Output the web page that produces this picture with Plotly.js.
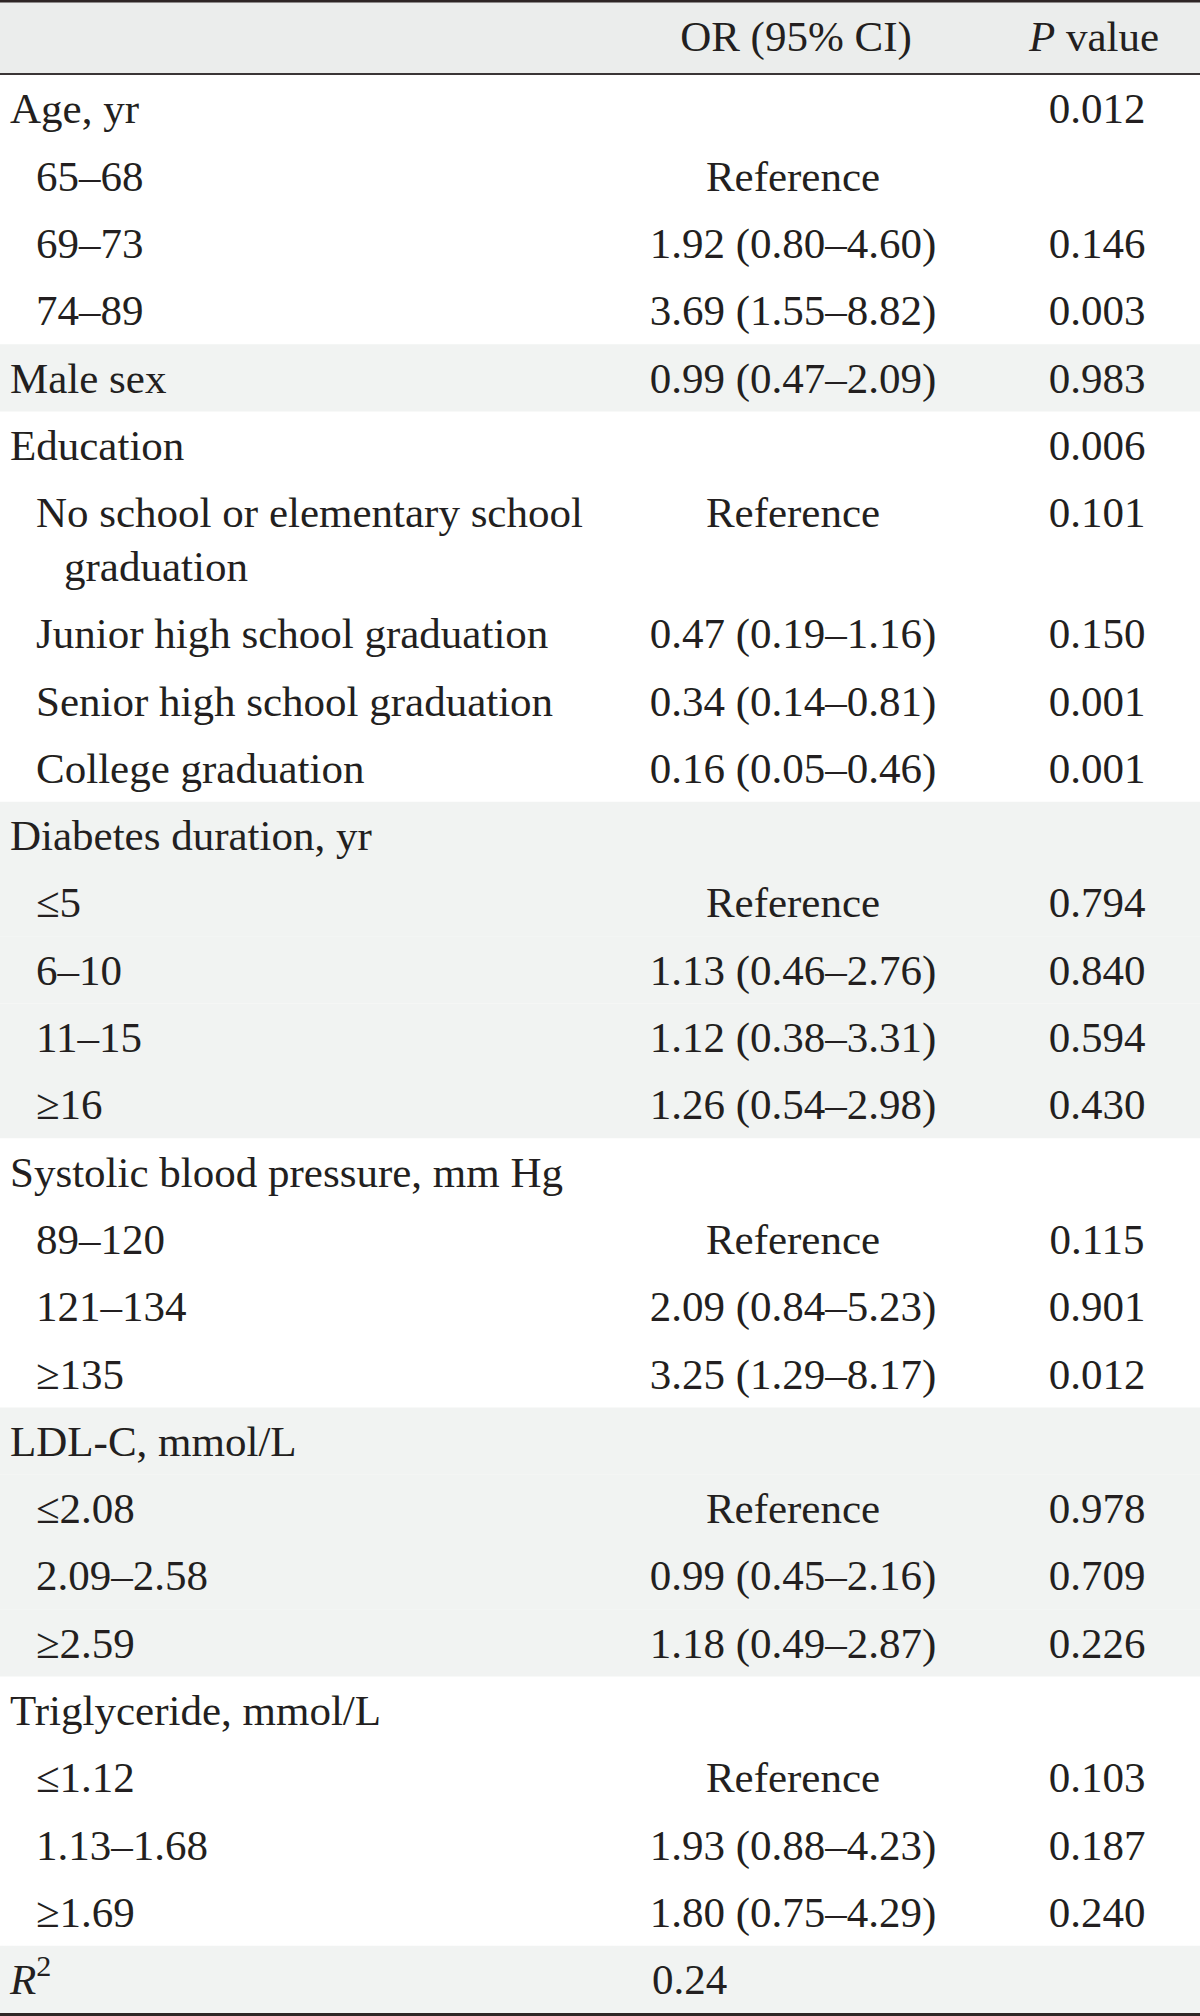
<!DOCTYPE html>
<html>
<head>
<meta charset="utf-8">
<script src="https://cdn.plot.ly/plotly-3.0.1.min.js"></script>
<style>
  html, body { margin: 0; padding: 0; background: #ffffff; }
  #chart { width: 1200px; height: 2016px; }
</style>
</head>
<body>
<div id="chart"></div>
<script>
// ---- Data ----
const headers = ["", "OR (95% CI)", "<i>P</i> value"];

const labels = [
  "Age, yr", "65–68", "69–73", "74–89",
  "Male sex",
  "Education", "No school or elementary school\ngraduation", "Junior high school graduation",
  "Senior high school graduation", "College graduation",
  "Diabetes duration, yr", "≤5", "6–10", "11–15", "≥16",
  "Systolic blood pressure, mm Hg", "89–120", "121–134", "≥135",
  "LDL-C, mmol/L", "≤2.08", "2.09–2.58", "≥2.59",
  "Triglyceride, mmol/L", "≤1.12", "1.13–1.68", "≥1.69"
];

const levels = [
  0, 1, 1, 1,
  0,
  0, 1, 1, 1, 1,
  0, 1, 1, 1, 1,
  0, 1, 1, 1,
  0, 1, 1, 1,
  0, 1, 1, 1
];

const orCI = [
  "", "Reference", "1.92 (0.80–4.60)", "3.69 (1.55–8.82)",
  "0.99 (0.47–2.09)",
  "", "Reference", "0.47 (0.19–1.16)", "0.34 (0.14–0.81)", "0.16 (0.05–0.46)",
  "", "Reference", "1.13 (0.46–2.76)", "1.12 (0.38–3.31)", "1.26 (0.54–2.98)",
  "", "Reference", "2.09 (0.84–5.23)", "3.25 (1.29–8.17)",
  "", "Reference", "0.99 (0.45–2.16)", "1.18 (0.49–2.87)",
  "", "Reference", "1.93 (0.88–4.23)", "1.80 (0.75–4.29)"
];

const pValues = [
  "0.012", "", "0.146", "0.003",
  "0.983",
  "0.006", "0.101", "0.150", "0.001", "0.001",
  "", "0.794", "0.840", "0.594", "0.430",
  "", "0.115", "0.901", "0.012",
  "", "0.978", "0.709", "0.226",
  "", "0.103", "0.187", "0.240"
];

const summaryLabel = "<i>R</i><sup>2</sup>";
const summaryValue = "0.24";

// ---- Layout constants ----
const W = 1200, H = 2016;
const HEAD_H = 75, ROW_H = 67.3, LINE_H = 53.7, TEXT_DY = 4;
const X_LABEL = 10, INDENT = 26, WRAP_INDENT = 28;
const X_OR = 793, X_P = 1097, X_SUMMARY = 652;
const FONT = "Liberation Serif, Times New Roman, serif";
const FSIZE = 43;
const TXT = "#231f20";
const SHADE = "#f1f3f2", HEAD_SHADE = "#ebedec";

// ---- Compute positions ----
const labX = [], labY = [], labT = [];
const orX = [], orY = [], orT = [];
const pX = [], pY = [], pT = [];
const shapes = [];

shapes.push({type: "rect", xref: "x", yref: "y", x0: 0, x1: W, y0: 0, y1: HEAD_H,
  fillcolor: HEAD_SHADE, line: {width: 0}, layer: "below"});

let y = HEAD_H;
let group = -1;
labels.forEach((lab, i) => {
  if (levels[i] === 0) group++;
  const lines = lab.split("\n");
  const h = ROW_H + (lines.length - 1) * LINE_H;
  if (group % 2 === 1) {
    shapes.push({type: "rect", xref: "x", yref: "y", x0: 0, x1: W, y0: y, y1: y + h,
      fillcolor: SHADE, line: {width: 0}, layer: "below"});
  }
  const cy = y + ROW_H / 2 + TEXT_DY;
  lines.forEach((ln, k) => {
    labX.push(X_LABEL + levels[i] * INDENT + (k > 0 ? WRAP_INDENT : 0));
    labY.push(cy + k * LINE_H);
    labT.push(ln);
  });
  if (orCI[i]) { orX.push(X_OR); orY.push(cy); orT.push(orCI[i]); }
  if (pValues[i]) { pX.push(X_P); pY.push(cy); pT.push(pValues[i]); }
  y += h;
});
group++;
// summary row
const sTop = y;
if (group % 2 === 1) {
  shapes.push({type: "rect", xref: "x", yref: "y", x0: 0, x1: W, y0: sTop, y1: sTop + ROW_H,
    fillcolor: SHADE, line: {width: 0}, layer: "below"});
}
const sumY = sTop + ROW_H / 2 + TEXT_DY;
labX.push(X_LABEL); labY.push(sumY); labT.push(summaryLabel);

// rules
shapes.push({type: "line", xref: "x", yref: "y", x0: 0, x1: W, y0: 1.2, y1: 1.2,
  line: {color: "#2e2626", width: 2.5}});
shapes.push({type: "line", xref: "x", yref: "y", x0: 0, x1: W, y0: HEAD_H - 1, y1: HEAD_H - 1,
  line: {color: "#3a3536", width: 2}});
shapes.push({type: "line", xref: "x", yref: "y", x0: 0, x1: W, y0: H - 1.5, y1: H - 1.5,
  line: {color: "#2e2626", width: 3}});

const font = {family: FONT, size: FSIZE, color: TXT};
const traces = [
  {type: "scatter", mode: "text", x: labX, y: labY, text: labT,
   textposition: "middle right", textfont: font, hoverinfo: "skip", cliponaxis: false},
  {type: "scatter", mode: "text", x: orX, y: orY, text: orT,
   textposition: "middle center", textfont: font, hoverinfo: "skip", cliponaxis: false},
  {type: "scatter", mode: "text", x: pX, y: pY, text: pT,
   textposition: "middle center", textfont: font, hoverinfo: "skip", cliponaxis: false},
  {type: "scatter", mode: "text", x: [X_SUMMARY], y: [sumY], text: [summaryValue],
   textposition: "middle right", textfont: font, hoverinfo: "skip", cliponaxis: false},
  {type: "scatter", mode: "text", x: [796, 1094], y: [HEAD_H / 2 + TEXT_DY - 1, HEAD_H / 2 + TEXT_DY - 1],
   text: [headers[1], headers[2]],
   textposition: "middle center", textfont: font, hoverinfo: "skip", cliponaxis: false}
];

const layout = {
  width: W, height: H,
  margin: {l: 0, r: 0, t: 0, b: 0, pad: 0},
  paper_bgcolor: "#ffffff", plot_bgcolor: "#ffffff",
  showlegend: false,
  xaxis: {range: [0, W], visible: false, fixedrange: true},
  yaxis: {range: [H, 0], visible: false, fixedrange: true},
  shapes: shapes
};

Plotly.newPlot("chart", traces, layout, {staticPlot: true, displayModeBar: false});
</script>
</body>
</html>
